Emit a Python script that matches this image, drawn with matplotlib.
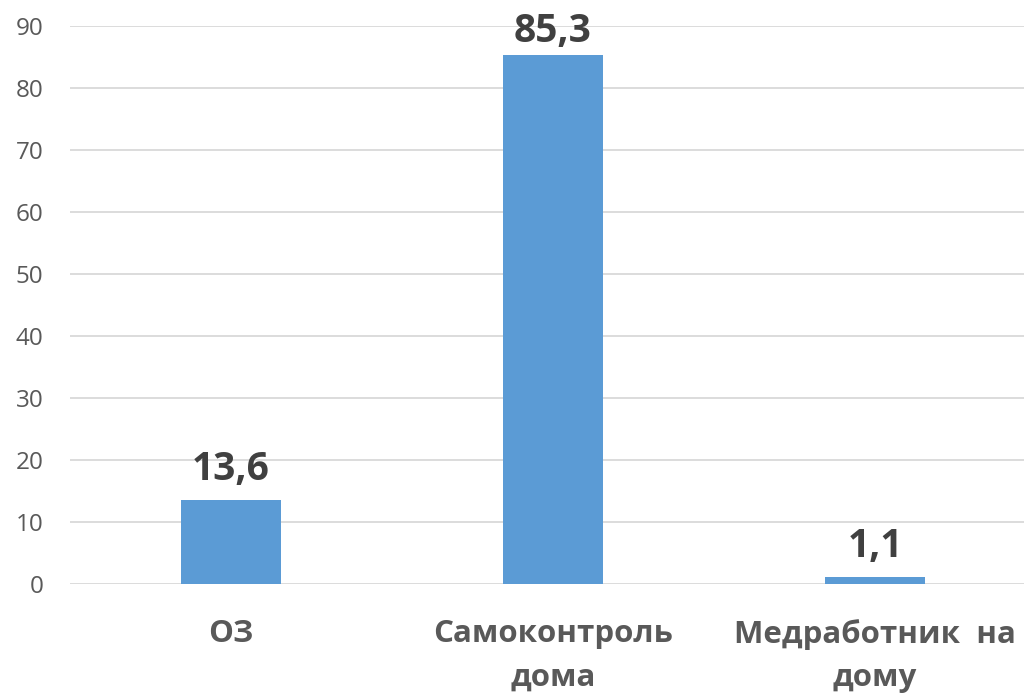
import matplotlib
matplotlib.use("Agg")
import matplotlib.pyplot as plt

categories = ["ОЗ", "Самоконтроль\nдома", "Медработник  на\nдому"]
values = [13.6, 85.3, 1.1]
value_labels = ["13,6", "85,3", "1,1"]
yticks = [0, 10, 20, 30, 40, 50, 60, 70, 80, 90]

plt.rcParams['font.family'] = ['Open Sans', 'DejaVu Sans']

W, H = 1024, 697
fig = plt.figure(figsize=(W/100, H/100), dpi=100)
ax = fig.add_axes([70/W, 1 - 584/H, 1 - 70/W, (584 - 26)/H])

x = range(len(categories))
bars = ax.bar(x, values, width=100/322, color="#5B9BD5", zorder=3)

ax.set_ylim(0, 90)
ax.set_xlim(-0.5, 2.5 - 12/322)

# value labels: 20 px above the bar, but kept inside the figure
for b, lab in zip(bars, value_labels):
    cx = b.get_x() + b.get_width()/2
    px, py = ax.transData.transform((cx, b.get_height()))
    py = min(py + 20, H - 42)
    fig.text(px/W, py/H, lab, ha="center", va="baseline", fontsize=28,
             fontweight="bold", color="#404040")

ax.set_yticks(yticks)
ax.grid(axis="y", color="#D9D9D9", linewidth=1.3, zorder=0)
ax.set_xticks(list(x))
ax.set_xticklabels(categories, fontsize=22.5, fontweight="bold", color="#595959",
                   linespacing=1.6, va="top")
for s in ax.spines.values():
    s.set_visible(False)
ax.tick_params(axis="y", length=0, labelsize=17.5, labelcolor="#595959", pad=19)
ax.tick_params(axis="x", length=0, pad=25)

fig.savefig("out.png", dpi=100)
